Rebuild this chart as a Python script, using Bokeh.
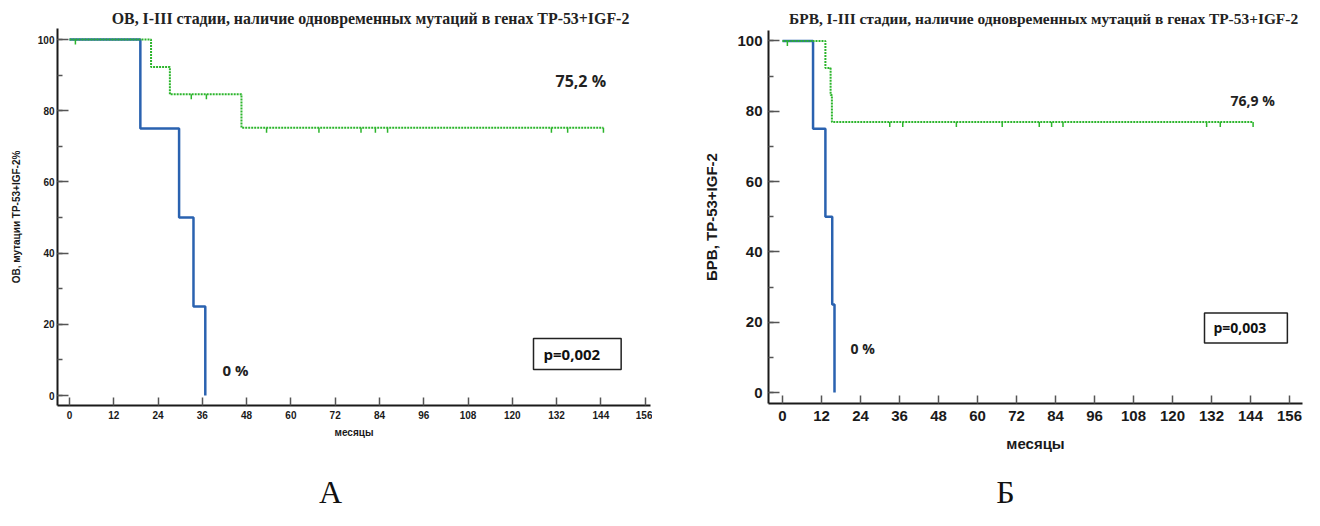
from bokeh.plotting import figure
from bokeh.models import SingleIntervalTicker, Range1d, Label
from bokeh.layouts import row
from bokeh.embed import file_html
from bokeh.resources import INLINE

# ---------------- data ----------------
x_tick_step = 12
y_tick_step = 20

# Panel A: overall survival (ОВ)
a_title = "ОВ, I-III  стадии, наличие одновременных мутаций в генах TP-53+IGF-2"
a_ylabel = "ОВ, мутации TP-53+IGF-2%"
a_green_t = [0, 22.1, 27.2, 46.6, 144.7]
a_green_s = [100, 92.3, 84.6, 75.2, 75.2]
a_green_cens_t = [1.6, 33.0, 37.1, 53.4, 67.6, 79.0, 82.9, 86.2, 130.6, 135.0, 144.7]
a_green_cens_s = [100, 84.6, 84.6, 75.2, 75.2, 75.2, 75.2, 75.2, 75.2, 75.2, 75.2]
a_blue_t = [0, 19.2, 29.7, 33.6, 36.8]
a_blue_s = [100, 75, 50, 25, 0]
a_green_final = "75,2 %"
a_blue_final = "0 %"
a_pvalue = "p=0,002"

# Panel Б: relapse-free survival (БРВ)
b_title = "БРВ, I-III  стадии, наличие одновременных мутаций в генах TP-53+IGF-2"
b_ylabel = "БРВ, TP-53+IGF-2"
b_green_t = [0, 13.2, 14.8, 15.2, 144.8]
b_green_s = [100, 92.3, 84.6, 76.9, 76.9]
b_green_cens_t = [1.5, 33.0, 37.0, 53.5, 67.6, 79.0, 82.8, 86.3, 130.5, 134.7, 144.8]
b_green_cens_s = [100, 76.9, 76.9, 76.9, 76.9, 76.9, 76.9, 76.9, 76.9, 76.9, 76.9]
b_blue_t = [0, 9.4, 13.2, 15.3, 16.0]
b_blue_s = [100, 75, 50, 25, 0]
b_green_final = "76,9 %"
b_blue_final = "0 %"
b_pvalue = "p=0,003"

xlabel = "месяцы"

GREEN = "#2cb52c"
BLUE = "#2a62b0"
AXIS = "#1a1a1a"
TICK = "#555555"

FIG_W, FIG_H = 652, 510


def panel(cfg):
    g = cfg["geom"]
    ox, oy = g["ox"], 0            # picture position of the canvas' top-left corner
    ppm, ppp = g["ppm"], g["ppp"]  # pixels per month / per percent

    def mx(px):  # picture x pixel -> months
        return (px - g["x0"]) / ppm

    def py(pyy):  # picture y pixel -> percent
        return (g["y0"] - pyy) / ppp

    p = figure(width=FIG_W, height=FIG_H, output_backend="svg", toolbar_location=None,
               title=None, min_border=0,
               x_range=Range1d(mx(ox), mx(ox + FIG_W)),
               y_range=Range1d(py(oy + FIG_H), py(oy)))
    p.outline_line_color = None
    p.grid.visible = False
    p.background_fill_color = "white"
    p.border_fill_color = "white"

    xa, ya = p.xaxis[0], p.yaxis[0]
    xa.fixed_location = py(g["ax_y"])
    ya.fixed_location = mx(g["ax_x"])
    xa.bounds = (mx(g["ax_x"]), mx(g["ax_r"]))
    ya.bounds = (py(g["ax_y"]), py(g["ax_t"]))

    xa.ticker = SingleIntervalTicker(interval=x_tick_step, num_minor_ticks=0)
    ya.ticker = SingleIntervalTicker(interval=y_tick_step, num_minor_ticks=2)
    for ax in (xa, ya):
        ax.axis_line_color = AXIS
        ax.axis_line_width = 2
        ax.major_tick_line_color = TICK
        ax.minor_tick_line_color = TICK
        ax.major_tick_line_width = 1.5
        ax.minor_tick_line_width = 1.5
        ax.major_tick_out = 0
        ax.minor_tick_out = 0
        ax.major_label_text_font = "Liberation Sans"
        ax.major_label_text_font_style = "bold"
        ax.major_label_text_font_size = cfg["tick_fs"]
        ax.major_label_text_color = "#1a1a1a"
        ax.axis_label_text_font = "Liberation Sans"
        ax.axis_label_text_font_style = "bold"
        ax.axis_label_text_font_size = cfg["lab_fs"]
        ax.axis_label_text_color = "#1a1a1a"
    xa.major_tick_in = 8
    ya.major_tick_in = 11
    ya.minor_tick_in = 5
    xa.major_label_standoff = cfg["x_std"]
    ya.major_label_standoff = cfg["y_std"]
    xa.axis_label = xlabel
    ya.axis_label = cfg["ylabel"]
    xa.axis_label_standoff = cfg["xl_std"]
    ya.axis_label_standoff = cfg["yl_std"]

    # survival curves
    p.step(cfg["blue_t"], cfg["blue_s"], mode="after", line_color=BLUE, line_width=2.5)
    p.step(cfg["green_t"], cfg["green_s"], mode="after", line_color=GREEN,
           line_width=2, line_dash="2 1")
    # censor marks hanging 5 px below the line
    d = 5 / ppp
    p.segment(x0=cfg["green_cens_t"], y0=cfg["green_cens_s"],
              x1=cfg["green_cens_t"], y1=[s - d for s in cfg["green_cens_s"]],
              line_color=GREEN, line_width=1.5)

    # title
    tx, ty = cfg["title_px"]
    p.add_layout(Label(x=mx(tx), y=py(ty), text=cfg["title"], text_font="Liberation Serif",
                       text_font_style="bold", text_font_size=cfg["title_fs"],
                       text_color="#222222", text_align="center", text_baseline="middle"))
    # curve-end annotations
    for txt, (lx, ly), fs in ((cfg["green_final"], cfg["gf_px"], cfg["gf_fs"]),
                              (cfg["blue_final"], cfg["bf_px"], cfg["bf_fs"])):
        p.add_layout(Label(x=mx(lx), y=py(ly), text=txt, text_font="Open Sans",
                           text_font_style="bold", text_font_size=fs,
                           text_color="#222222", text_align="left",
                           text_baseline="middle"))
    # p-value box (anchor = left edge of the box)
    bx, by = cfg["p_px"]
    p.add_layout(Label(x=mx(bx), y=py(by), text=cfg["pvalue"], text_font="Open Sans",
                       text_font_style="bold", text_font_size=cfg["p_fs"],
                       text_color="#111111", text_align="left", text_baseline="middle",
                       border_line_color="#222222", border_line_width=1.5,
                       background_fill_color="white", padding=cfg["p_pad"]))
    # panel letter
    lx, ly = cfg["letter_px"]
    p.add_layout(Label(x=mx(lx), y=py(ly), text=cfg["letter"], text_font="Liberation Serif",
                       text_font_size="32px", text_color="#111111",
                       text_align="center", text_baseline="middle"))
    return p


cfg_a = dict(title=a_title, ylabel=a_ylabel,
             geom=dict(ox=0, x0=69, ppm=3.69, y0=395, ppp=3.56,
                       ax_x=57, ax_r=650, ax_y=405, ax_t=28),
             tick_fs="10px", lab_fs="10px", x_std=5, y_std=3, xl_std=5, yl_std=13,
             blue_t=a_blue_t, blue_s=a_blue_s, green_t=a_green_t, green_s=a_green_s,
             green_cens_t=a_green_cens_t, green_cens_s=a_green_cens_s,
             green_final=a_green_final, blue_final=a_blue_final, pvalue=a_pvalue,
             title_px=(372, 18), title_fs="15.9px",
             gf_px=(555, 80), bf_px=(222, 369), gf_fs="16px", bf_fs="15px",
             p_px=(533, 353.5), p_fs="15px", p_pad=(10, 21, 5, 6),
             letter="А", letter_px=(330, 491))

cfg_b = dict(title=b_title, ylabel=b_ylabel,
             geom=dict(ox=652, x0=782, ppm=3.25, y0=392, ppp=3.516,
                       ax_x=768, ax_r=1302, ax_y=403, ax_t=30),
             tick_fs="15px", lab_fs="15px", x_std=7, y_std=6, xl_std=11, yl_std=14,
             blue_t=b_blue_t, blue_s=b_blue_s, green_t=b_green_t, green_s=b_green_s,
             green_cens_t=b_green_cens_t, green_cens_s=b_green_cens_s,
             green_final=b_green_final, blue_final=b_blue_final, pvalue=b_pvalue,
             title_px=(1045, 18), title_fs="15.4px",
             gf_px=(1230, 100), bf_px=(850, 348), gf_fs="14px", bf_fs="14px",
             p_px=(1204, 327.5), p_fs="14px", p_pad=(9, 21, 5, 6),
             letter="Б", letter_px=(1005, 491))

pa = panel(cfg_a)
pb = panel(cfg_b)
layout = row(pa, pb, spacing=0)

open("out.html", "w").write(file_html(layout, INLINE))
